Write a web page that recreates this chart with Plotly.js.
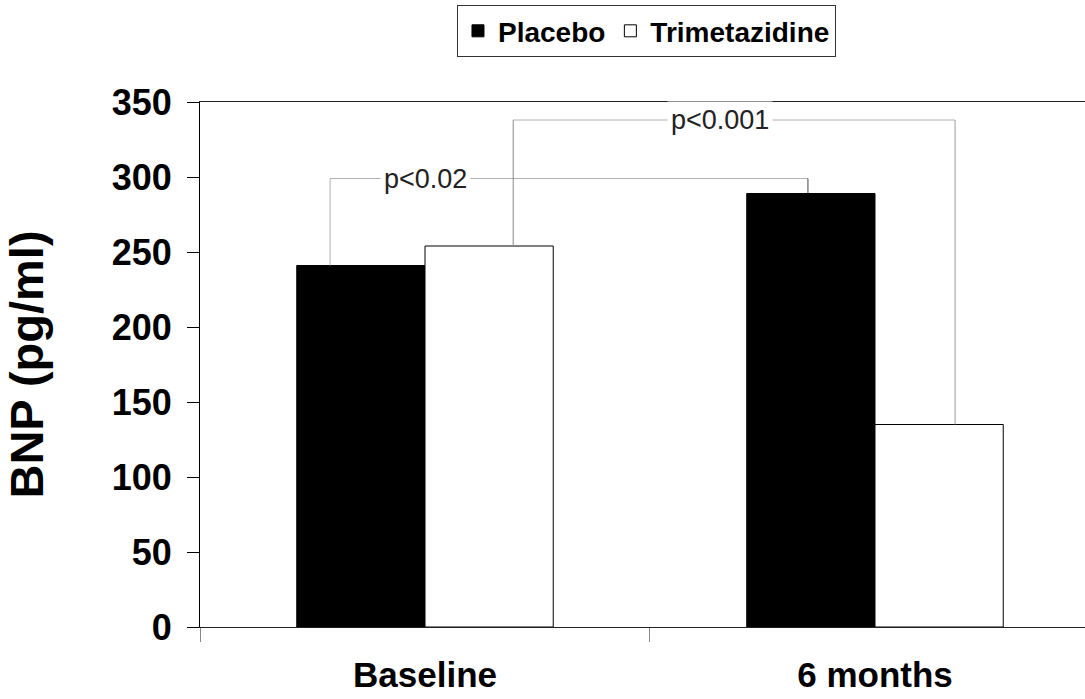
<!DOCTYPE html>
<html>
<head>
<meta charset="utf-8">
<script src="https://cdn.plot.ly/plotly-3.0.1.min.js"></script>
<style>html,body{margin:0;padding:0;background:#fff;}#chart{width:1085px;height:699px;}</style>
</head>
<body>
<div id="chart"></div>
<script>
const categories = ["Baseline", "6 months"];
const placebo = [241, 289];
const trimetazidine = [254, 135];
const yTicks = [0, 50, 100, 150, 200, 250, 300, 350];
const pLabels = ["p<0.02", "p<0.001"];
const bracketLevels = [299, 338];

const font = "Liberation Sans, Arial, sans-serif";
const lineGray = "#b0b0b0";

const traces = [
  {type: "bar", name: "Placebo", x: categories, y: placebo,
   marker: {color: "#000", line: {color: "#000", width: 1}}},
  {type: "bar", name: "Trimetazidine", x: categories, y: trimetazidine,
   marker: {color: "#fff", line: {color: "#000", width: 1}}}
];

const bx = [-0.211, 0.196, 0.851, 1.178];
function seg(x0, y0, x1, y1, c) {
  return {type: "line", xref: "x", yref: "y", x0, y0, x1, y1, line: {color: c || lineGray, width: 1}};
}
const shapes = [
  seg(bx[0], placebo[0], bx[0], bracketLevels[0]),
  seg(bx[0], bracketLevels[0], bx[2], bracketLevels[0]),
  seg(bx[2], bracketLevels[0], bx[2], placebo[1], "#444"),
  seg(bx[1], trimetazidine[0], bx[1], bracketLevels[1], "#888"),
  seg(bx[1], bracketLevels[1], bx[3], bracketLevels[1]),
  seg(bx[3], bracketLevels[1], bx[3], trimetazidine[1], "#999")
];

const annotations = [
  {x: 0, y: bracketLevels[0], xref: "x", yref: "y", text: pLabels[0], showarrow: false,
   bgcolor: "#fff", borderpad: 3, font: {family: font, size: 27, color: "#222"}},
  {x: 0.656, y: bracketLevels[1], xref: "x", yref: "y", text: pLabels[1], showarrow: false,
   bgcolor: "#fff", borderpad: 3, font: {family: font, size: 27, color: "#222"}}
];

const layout = {
  width: 1085, height: 699,
  margin: {l: 200, r: 0, t: 102, b: 72, pad: 0},
  paper_bgcolor: "#fff", plot_bgcolor: "#fff",
  barmode: "group", bargap: 0.43, bargroupgap: 0,
  showlegend: true,
  legend: {orientation: "h", x: 0.5045, xanchor: "center", y: 1.135, yanchor: "middle",
    bordercolor: "#333", borderwidth: 1, bgcolor: "#fff",
    font: {family: font, size: 28, color: "#000", weight: "bold"},
    itemwidth: 30, tracegroupgap: 0},
  xaxis: {type: "category", range: [-0.5, 1.4667], showline: true, linecolor: "#222", linewidth: 1,
    mirror: true, ticks: "outside", tickson: "boundaries", ticklen: 14, tickcolor: "#888",
    ticklabelstandoff: 17, showgrid: false, zeroline: false, automargin: false,
    tickfont: {family: font, size: 35, color: "#000", weight: "bold"}},
  yaxis: {range: [0, 350], tickvals: yTicks, showline: true, linecolor: "#000", linewidth: 1,
    ticks: "outside", ticklen: 12, tickcolor: "#000", ticklabelstandoff: 8,
    showgrid: false, zeroline: false, automargin: false,
    tickfont: {family: font, size: 36, color: "#000", weight: "bold"},
    title: {text: "BNP (pg/ml)", standoff: 56, font: {family: font, size: 47, color: "#000", weight: "bold"}}},
  shapes, annotations
};

Plotly.newPlot("chart", traces, layout, {staticPlot: true, displayModeBar: false});
</script>
</body>
</html>
